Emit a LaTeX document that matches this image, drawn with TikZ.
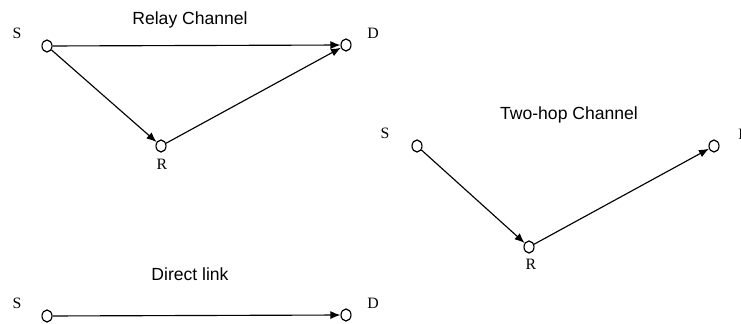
\documentclass[tikz,border=0pt]{standalone}
\usepackage{fontspec}
\setmainfont{Liberation Serif}
\setsansfont{Liberation Sans}
\usetikzlibrary{arrows.meta,shapes.geometric}

\tikzset{
  term/.style={draw,ellipse,inner sep=0pt,minimum width=0.2cm,minimum height=0.24cm,line width=0.65pt},
  hop/.style={-{Latex[length=0.2cm,width=0.16cm]},line width=0.65pt},
  tag/.style={font=\fontsize{9}{10}\selectfont},
  ttl/.style={font=\sffamily\fontsize{10}{12}\selectfont},
}

\begin{document}
\begin{tikzpicture}[x=0.02cm,y=-0.02cm]
  \useasboundingbox (0,0) rectangle (741,324);

  % relay channel: S -> D and S -> R -> D
  \node[ttl] (tRel) at (190,20) {Relay Channel};
  \node[term] (relS) at (47,46) {};
  \node[term] (relD) at (346,45) {};
  \node[term] (relR) at (161,146) {};
  \node[tag] (relSl) at (17,33) {S};
  \node[tag] (relDl) at (373,33) {D};
  \node[tag] (relRl) at (162,164) {R};
  \draw[hop] (relS) -- (relD);
  \draw[hop] (relS) -- (relR);
  \draw[hop] (relR) -- (relD);

  % two-hop channel: S -> R -> D
  \node[ttl] (tTwo) at (569,115) {Two-hop Channel};
  \node[term] (twoS) at (417,146) {};
  \node[term] (twoR) at (529,247) {};
  \node[term] (twoD) at (714,146) {};
  \node[tag] (twoSl) at (385,133) {S};
  \node[tag] (twoRl) at (531,264) {R};
  \node[tag] (twoDl) at (744,134) {D};
  \draw[hop] (twoS) -- (twoR);
  \draw[hop] (twoR) -- (twoD);

  % direct link: S -> D
  \node[ttl] (tDir) at (190,274) {Direct link};
  \node[term] (dirS) at (47,316) {};
  \node[term] (dirD) at (346,315) {};
  \node[tag] (dirSl) at (17,303) {S};
  \node[tag] (dirDl) at (373,303) {D};
  \draw[hop] (dirS) -- (dirD);
\end{tikzpicture}
\end{document}
